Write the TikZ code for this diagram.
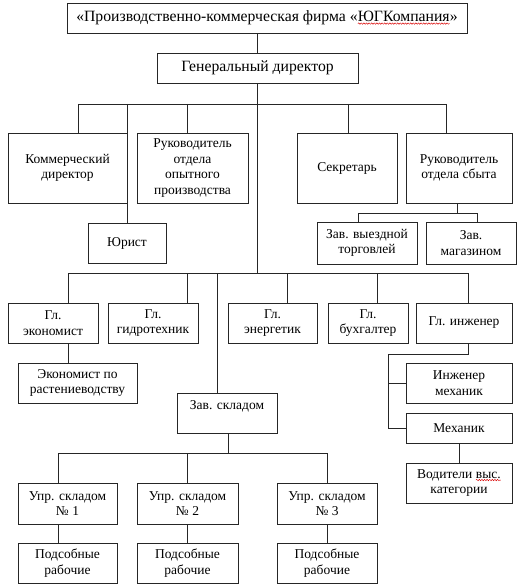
\documentclass[tikz,border=0pt]{standalone}
\usepackage{fontspec}
\setmainfont{Liberation Serif}
\usetikzlibrary{decorations.pathmorphing}
\newcommand{\wavyword}[2]{\tikz[baseline=(#1.base)]{\node[inner sep=0pt,outer sep=0pt,draw=none,minimum width=0pt,minimum height=0pt] (#1) {#2};\draw[red!85!black,line width=0.45pt,decorate,decoration={snake,amplitude=0.7pt,segment length=2.6pt}] ([yshift=-1.8pt]#1.base west) -- ([yshift=-1.8pt]#1.base east);}}
\begin{document}
\begin{tikzpicture}[x=1pt,y=-1pt,
  box/.style={draw=black!85, line width=0.7pt, align=center, inner sep=1pt, font=\fontsize{13.5}{15.5}\selectfont},
  thk/.style={line width=0.95pt},
  ln/.style={draw=black!85, line width=0.7pt},
  ltk/.style={draw=black!85, line width=0.95pt}]
\useasboundingbox (0,0) rectangle (522,588);
% nodes
\node[box, minimum width=400pt, minimum height=30pt, font=\fontsize{15.7}{18}\selectfont] (title) at (267,18) {«Производственно-коммерческая фирма «\wavyword{wa}{ЮГКомпания}»};
\node[box, minimum width=201pt, minimum height=30pt, font=\fontsize{15.7}{18}\selectfont] (gd) at (257.5,68) {Генеральный директор};
\node[box, minimum width=119pt, minimum height=70pt] (kom) at (67.5,168) {Коммерческий\\директор};
\node[box, minimum width=78pt, minimum height=40pt] (yur) at (127,243) {Юрист};
\node[box, minimum width=111pt, minimum height=70pt] (rukop) at (192.5,168) {Руководитель\\отдела\\опытного\\производства};
\node[box, minimum width=100pt, minimum height=70pt] (sekr) at (347,168) {Секретарь};
\node[box, thk, minimum width=106pt, minimum height=70pt] (ruksb) at (459,168) {Руководитель\\отдела сбыта};
\node[box, minimum width=100pt, minimum height=42pt] (zvyezd) at (367,243) {Зав. выездной\\торговлей};
\node[box, thk, minimum width=90pt, minimum height=42pt] (zmag) at (471,243) {Зав.\\магазином};
\node[box, minimum width=90pt, minimum height=40pt] (glek) at (53,323) {Гл.\\экономист};
\node[box, minimum width=90pt, minimum height=40pt] (glgid) at (153,323) {Гл.\\гидротехник};
\node[box, minimum width=89pt, minimum height=40pt] (glen) at (272.5,323) {Гл.\\энергетик};
\node[box, minimum width=80pt, minimum height=40pt] (glbuh) at (368,323) {Гл.\\бухгалтер};
\node[box, thk, minimum width=96pt, minimum height=40pt] (glinzh) at (464,323) {Гл. инженер};
\node[box, minimum width=119pt, minimum height=40pt] (ekrast) at (77.5,383) {Экономист по\\растениеводству};
\node[box, minimum width=100pt, minimum height=40pt] (zskl) at (227,413) {Зав. складом\\\mbox{}};
\node[box, thk, minimum width=106pt, minimum height=40pt] (inzhm) at (459,383) {Инженер\\механик};
\node[box, thk, minimum width=106pt, minimum height=30pt] (mech) at (459,428) {Механик};
\node[box, thk, minimum width=106pt, minimum height=40pt] (vod) at (459,483) {Водители \wavyword{wb}{выс.}\\категории};
\node[box, minimum width=99pt, minimum height=41pt] (upr1) at (67.5,503.5) {Упр. складом\\№ 1};
\node[box, minimum width=101pt, minimum height=41pt] (upr2) at (187.5,503.5) {Упр. складом\\№ 2};
\node[box, minimum width=100pt, minimum height=41pt] (upr3) at (327,503.5) {Упр. складом\\№ 3};
\node[box, minimum width=99pt, minimum height=40pt] (pod1) at (67.5,563) {Подсобные\\рабочие};
\node[box, minimum width=101pt, minimum height=40pt] (pod2) at (187.5,563) {Подсобные\\рабочие};
\node[box, minimum width=100pt, minimum height=40pt] (pod3) at (327,563) {Подсобные\\рабочие};
% connectors
\draw[ln] (title.south -| gd.north) -- (gd.north);
\coordinate (b1) at (257.5,104);
\coordinate (b1a) at (78,104);
\coordinate (b1b) at (127,104);
\coordinate (b1c) at (187,104);
\coordinate (b1d) at (348,104);
\coordinate (b1e) at (446,104);
\draw[ln] (gd.south) -- (b1);
\draw[ln] (b1a) -- (b1e);
\draw[ln] (b1a) -- (b1a |- kom.north);
\draw[ln] (b1b) -- (yur.north);
\draw[ln] (b1c) -- (b1c |- rukop.north);
\draw[ln] (b1d) -- (b1d |- sekr.north);
\draw[ltk] (b1e) -- (b1e |- ruksb.north);
% sales
\coordinate (s0) at (457,203);
\coordinate (s1) at (457,213);
\coordinate (sa) at (358,213);
\coordinate (sb) at (477,213);
\draw[ltk] (s0) -- (s1);
\draw[ln] (sa) -- (sb);
\draw[ln] (sa) -- (sa |- zvyezd.north);
\draw[ln] (sb) -- (sb |- zmag.north);
% second bus
\coordinate (b2) at (257.5,273);
\coordinate (b2a) at (68,273);
\coordinate (b2b) at (187,273);
\coordinate (b2c) at (217,273);
\coordinate (b2d) at (287,273);
\coordinate (b2e) at (377,273);
\coordinate (b2f) at (468,273);
\draw[ln] (b1) -- (b2);
\draw[ln] (b2a) -- (b2f);
\draw[ln] (b2a) -- (b2a |- glek.north);
\draw[ln] (b2b) -- (b2b |- glgid.north);
\draw[ln] (b2c) -- (b2c |- zskl.north);
\draw[ln] (b2d) -- (b2d |- glen.north);
\draw[ln] (b2e) -- (b2e |- glbuh.north);
\draw[ln] (b2f) -- (b2f |- glinzh.north);
\draw[ln] (b2a |- glek.south) -- (b2a |- ekrast.north);
% engineer branch
\coordinate (e0) at (468,343);
\coordinate (e1) at (468,354);
\coordinate (e2) at (388,354);
\draw[ln] (e0) -- (e1) -- (e2) -- (e2 |- mech.west) -- (mech.west);
\draw[ln] (e2 |- inzhm.west) -- (inzhm.west);
\draw[ltk] (mech.south) -- (vod.north);
% warehouse
\coordinate (w0) at (228,433);
\coordinate (w1) at (228,453);
\coordinate (wa) at (58,453);
\coordinate (wb) at (187,453);
\coordinate (wc) at (327,453);
\draw[ln] (w0) -- (w1);
\draw[ln] (wa) -- (wc);
\draw[ln] (wa) -- (wa |- upr1.north);
\draw[ln] (wb) -- (wb |- upr2.north);
\draw[ln] (wc) -- (wc |- upr3.north);
\draw[ln] (wa |- upr1.south) -- (wa |- pod1.north);
\draw[ln] (wb |- upr2.south) -- (wb |- pod2.north);
\draw[ln] (wc |- upr3.south) -- (wc |- pod3.north);
\end{tikzpicture}
\end{document}
